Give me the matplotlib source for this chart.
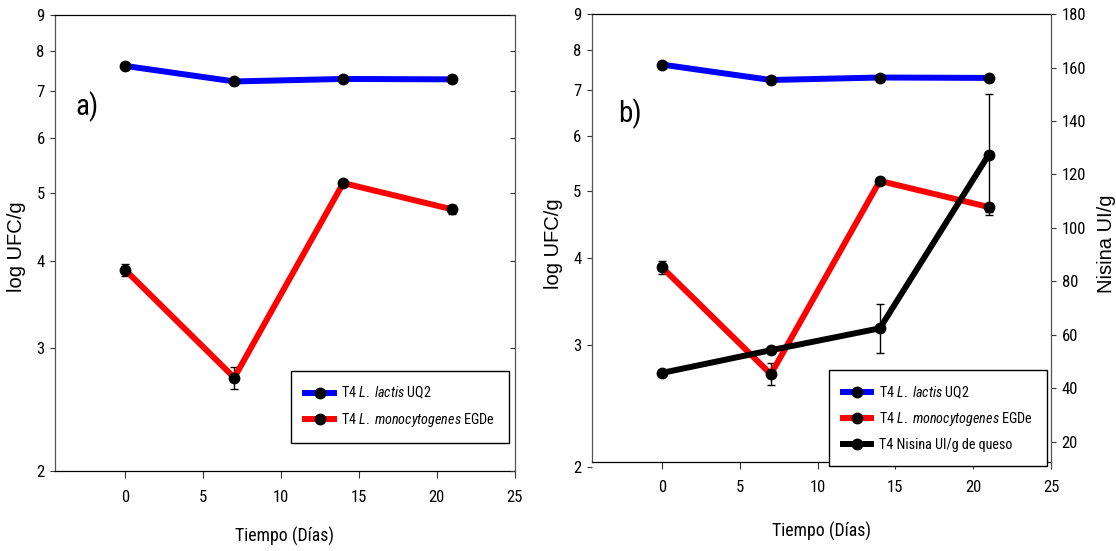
import matplotlib
matplotlib.use("Agg")
import numpy as np
import matplotlib.pyplot as plt
from matplotlib.ticker import FixedLocator, FixedFormatter, NullLocator

# ---- data -------------------------------------------------------------
dias = [0, 7, 14, 21]

lactis = [7.61, 7.23, 7.29, 7.28]          # log UFC/g
lactis_err = [0.07, 0.08, 0.06, 0.06]

listeria = [3.88, 2.72, 5.17, 4.74]        # log UFC/g
listeria_err = [0.08, 0.10, 0.05, 0.07]

nisina = [45.7, 54.2, 62.4, 127.4]         # UI/g
nisina_err = [0.8, 0.8, 9.1, 22.6]

log_ticks = [2, 3, 4, 5, 6, 7, 8, 9]
x_ticks = [0, 5, 10, 15, 20, 25]
nis_ticks = [20, 40, 60, 80, 100, 120, 140, 160, 180]

lab_lactis = r"T4 $\it{L.}$ $\it{lactis}$ UQ2"
lab_listeria = r"T4 $\it{L.}$ $\it{monocytogenes}$ EGDe"
lab_nisina = "T4 Nisina UI/g de queso"

# ---- style ------------------------------------------------------------
NARROW = ["Roboto Condensed", "Liberation Sans", "DejaVu Sans"]
REG = ["Liberation Sans", "DejaVu Sans"]
plt.rcParams["font.family"] = NARROW
plt.rcParams["mathtext.fontset"] = "custom"
plt.rcParams["mathtext.rm"] = "Roboto Condensed"
plt.rcParams["mathtext.it"] = "Roboto Condensed:italic"

W, H = 1116, 551
fig = plt.figure(figsize=(W / 100, H / 100), dpi=100, facecolor="white")


def rect(l, t, r, b):
    return [l / W, (H - b) / H, (r - l) / W, (b - t) / H]


LW = 4.3
MS = 7.5
VCOL = "#555555"
TICK_FS = 12


def draw_series(ax, x, y, e, color):
    c = ax.errorbar(x, y, yerr=e, color=color, lw=LW, marker="o", ms=MS,
                    mfc="black", mec="black", ecolor="black", elinewidth=1.0,
                    capsize=3, capthick=1.0, zorder=3)
    return c.lines[0]


def setup_log_axis(ax):
    ax.set_yscale("log")
    ax.set_ylim(2, 9)
    ax.yaxis.set_major_locator(FixedLocator(log_ticks))
    ax.yaxis.set_major_formatter(FixedFormatter([str(t) for t in log_ticks]))
    ax.yaxis.set_minor_locator(NullLocator())
    ax.set_xlim(-4.5, 25)
    ax.set_xticks(x_ticks)
    ax.tick_params(axis="y", which="major", direction="out", length=3.6,
                   width=0.8, pad=4, labelsize=TICK_FS, color="#333333")
    ax.tick_params(axis="x", which="major", direction="out", length=5,
                   width=0.8, pad=8.5, labelsize=TICK_FS, color="#333333")
    ax.spines["left"].set_color(VCOL)
    ax.spines["right"].set_visible(False)
    for s in ("top", "bottom"):
        ax.spines[s].set_color("black")
    for s in ax.spines.values():
        s.set_linewidth(0.9)
    ax.set_xlabel("Tiempo (Días)", fontsize=12.8)
    ax.set_ylabel("log UFC/g", fontsize=14.5, family=REG)


def add_legend(ax, handles, labels, anchor):
    leg = ax.legend(handles, labels, loc="lower right", bbox_to_anchor=anchor,
                    borderaxespad=0, fontsize=10.2, frameon=True,
                    fancybox=False, edgecolor="black", framealpha=1,
                    handlelength=2.0, handletextpad=0.5, borderpad=1.0,
                    labelspacing=0.68, numpoints=1)
    leg.get_frame().set_linewidth(1.0)
    leg.set_zorder(10)
    return leg


# ---- panel a ----------------------------------------------------------
axa = fig.add_axes(rect(55.2, 15.1, 514.5, 470.8))
setup_log_axis(axa)
la = draw_series(axa, dias, lactis, lactis_err, "#0000ff")
ra = draw_series(axa, dias, listeria, listeria_err, "#ff0000")
axa.xaxis.set_label_coords(0.5, -0.123)
axa.yaxis.set_label_coords(-0.0627, 0.492)
axa.text(0.044, 0.80, "a)", transform=axa.transAxes, fontsize=21,
         ha="left", va="center")

# inward ticks along the right frame
axa_r = axa.twinx()
axa_r.set_yscale("log")
axa_r.set_ylim(2, 9)
axa_r.yaxis.set_major_locator(FixedLocator(log_ticks))
axa_r.yaxis.set_minor_locator(NullLocator())
axa_r.tick_params(axis="y", direction="in", length=3.6, width=0.8,
                  labelright=False, color="#333333")
for s in ("left", "top", "bottom"):
    axa_r.spines[s].set_visible(False)
axa_r.spines["right"].set_color(VCOL)
axa_r.spines["right"].set_linewidth(0.9)

add_legend(axa_r, [la, ra], [lab_lactis, lab_listeria], (0.988, 0.061))

# ---- panel b ----------------------------------------------------------
axb = fig.add_axes(rect(591.9, 14.1, 1051.0, 466.7))
setup_log_axis(axb)
lb = draw_series(axb, dias, lactis, lactis_err, "#0000ff")
rb = draw_series(axb, dias, listeria, listeria_err, "#ff0000")
axb.xaxis.set_label_coords(0.5, -0.122)
axb.yaxis.set_label_coords(-0.062, 0.492)
axb.text(0.058, 0.779, "b)", transform=axb.transAxes, fontsize=21,
         ha="left", va="center")
off = 0.011
axb.spines["bottom"].set_position(("axes", off))
axb.spines["left"].set_bounds(10 ** (np.log10(2) + off * np.log10(9 / 2)), 9)

axn = axb.twinx()
axn.set_ylim(10.6, 180)
axn.set_yticks(nis_ticks)
axn.tick_params(axis="y", direction="out", length=3.6, width=0.8, pad=4,
                labelsize=TICK_FS, color="#333333")
for s in ("left", "top", "bottom"):
    axn.spines[s].set_visible(False)
axn.spines["right"].set_color(VCOL)
axn.spines["right"].set_linewidth(0.9)
nb = draw_series(axn, dias, nisina, nisina_err, "black")
axn.set_ylabel("Nisina UI/g", fontsize=14.5, family=REG)
axn.yaxis.set_label_coords(1.100, 0.492)

add_legend(axn, [lb, rb, nb], [lab_lactis, lab_listeria, lab_nisina],
           (0.9906, 0.0015))

fig.savefig("out.png", dpi=100, facecolor="white")
